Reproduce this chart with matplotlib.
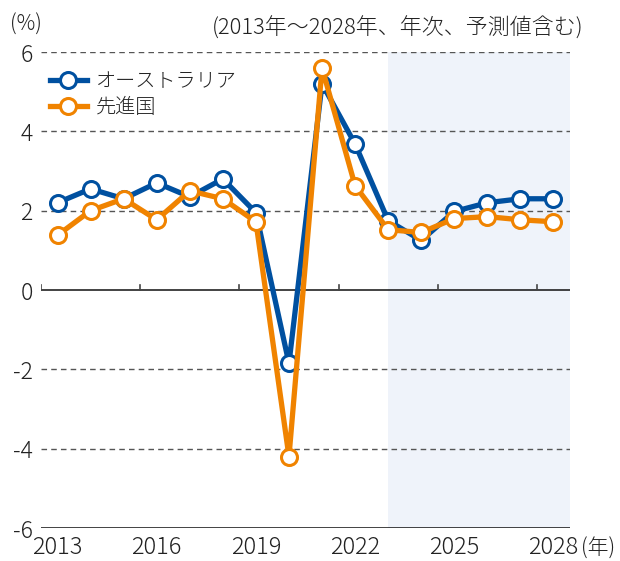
import matplotlib
matplotlib.use("Agg")
import matplotlib.pyplot as plt

plt.rcParams['font.family'] = ['Noto Sans CJK JP', 'DejaVu Sans']
plt.rcParams['font.weight'] = 'light'

years = list(range(2013, 2029))
australia = [2.2, 2.55, 2.3, 2.7, 2.35, 2.8, 1.95, -1.85, 5.2, 3.68, 1.75, 1.25, 1.98, 2.2, 2.3, 2.3]
advanced = [1.38, 2.0, 2.3, 1.77, 2.5, 2.3, 1.72, -4.2, 5.6, 2.63, 1.52, 1.45, 1.8, 1.85, 1.77, 1.72]
xtick_years = [2013, 2016, 2019, 2022, 2025, 2028]
yticks = [-6, -4, -2, 0, 2, 4, 6]
forecast_start = 2023

blue = '#0050a0'
orange = '#f08300'

fig = plt.figure(figsize=(6.2, 5.61), dpi=100)
ax = fig.add_axes([41/620, 1 - 528/561, (570-41)/620, (528-52)/561])
ax.set_xlim(2012.5, 2028.5)
ax.set_ylim(-6, 6)

ax.axvspan(forecast_start, 2028.5, color='#eff3fa', zorder=0, lw=0)

for v in yticks:
    if v in (0, -6):
        ax.axhline(v, color='#222222', lw=1.2, zorder=1)
    else:
        ax.axhline(v, color='#555555', lw=1.0, ls=(0, (4, 3)), zorder=1)

# small boundary ticks on zero line
for b in [2012.5, 2015.5, 2018.5, 2021.5, 2024.5, 2027.5]:
    ax.plot([b, b], [0, 0.13], color='#444444', lw=1.2, zorder=1)

ax.plot(years, australia, color=blue, lw=3.8, marker='o', ms=11.5,
        mfc='white', mec=blue, mew=2.2, zorder=3, label='オーストラリア')
ax.plot(years, advanced, color=orange, lw=3.8, marker='o', ms=11.5,
        mfc='white', mec=orange, mew=2.2, zorder=4, label='先進国')

for s in ax.spines.values():
    s.set_visible(False)
ax.set_yticks(yticks)
ax.set_yticklabels([str(v) for v in yticks], fontsize=16.5, color='#222222')
ax.set_xticks(xtick_years)
ax.set_xticklabels([str(y) for y in xtick_years], fontsize=17, color='#222222')
ax.tick_params(axis='y', length=0, pad=6)
ax.tick_params(axis='x', length=0, pad=5)

fig.text(581/620, 1 - 549/561, '(年)', fontsize=15, color='#222222', va='center', ha='left')
fig.text(10/620, 1 - 25/561, '(%)', fontsize=15, color='#222222', va='center', ha='left')
fig.text(584/620, 1 - 28/561, '(2013年～2028年、年次、予測値含む)', fontsize=15.8,
         color='#222222', va='center', ha='right')

leg = ax.legend(loc='upper left', bbox_to_anchor=(-0.01, 0.99), frameon=False,
                fontsize=14.5, handlelength=1.85, handletextpad=0.45,
                labelspacing=0.28, borderaxespad=0.3)
for t in leg.get_texts():
    t.set_color('#222222')

fig.savefig('out.png', dpi=100)
